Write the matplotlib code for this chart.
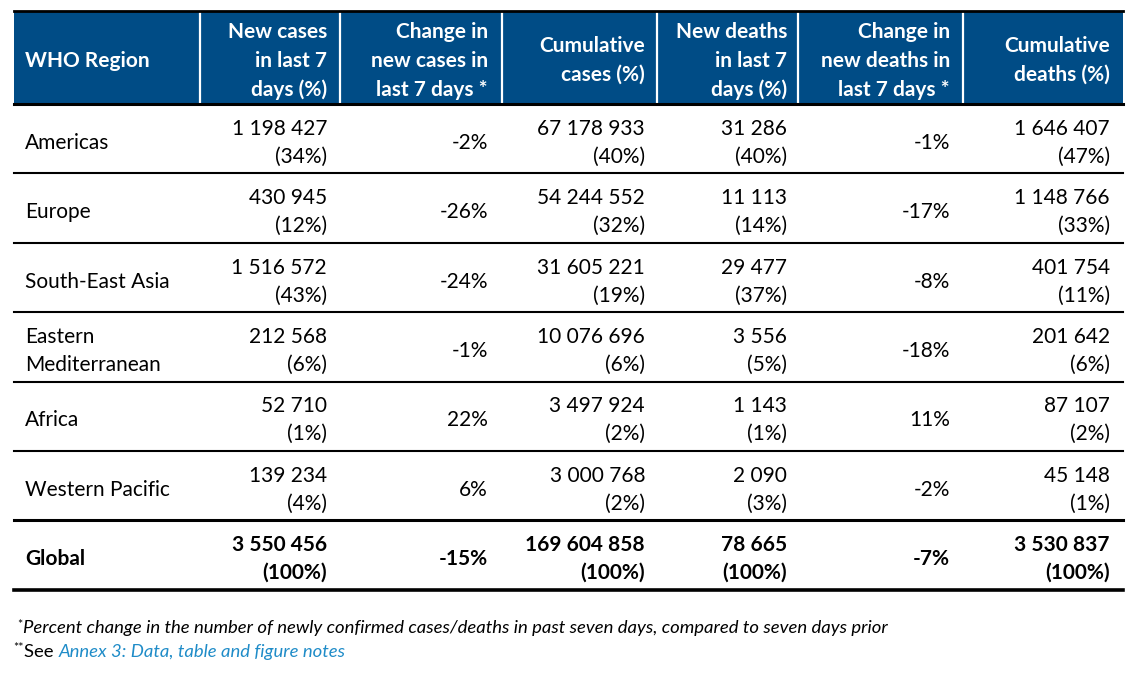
import matplotlib.pyplot as plt
from matplotlib.patches import Rectangle

plt.rcParams['font.family'] = ['Lato', 'DejaVu Sans']

headers = ['WHO Region', 'New cases\nin last 7\ndays (%)', 'Change in\nnew cases in\nlast 7 days *',
           'Cumulative\ncases (%)', 'New deaths\nin last 7\ndays (%)', 'Change in\nnew deaths in\nlast 7 days *',
           'Cumulative\ndeaths (%)']
regions = ['Americas', 'Europe', 'South-East Asia', 'Eastern\nMediterranean', 'Africa', 'Western Pacific']
new_cases = [1198427, 430945, 1516572, 212568, 52710, 139234]
new_cases_pct = [34, 12, 43, 6, 1, 4]
change_cases = [-2, -26, -24, -1, 22, 6]
cum_cases = [67178933, 54244552, 31605221, 10076696, 3497924, 3000768]
cum_cases_pct = [40, 32, 19, 6, 2, 2]
new_deaths = [31286, 11113, 29477, 3556, 1143, 2090]
new_deaths_pct = [40, 14, 37, 5, 1, 3]
change_deaths = [-1, -17, -8, -18, 11, -2]
cum_deaths = [1646407, 1148766, 401754, 201642, 87107, 45148]
cum_deaths_pct = [47, 33, 11, 6, 2, 1]
global_row = ['Global', 3550456, 100, -15, 169604858, 100, 78665, 100, -7, 3530837, 100]

BLUE = '#004C86'


def fmt(n):
    return f'{n:,}'.replace(',', ' ')


def two(n, p):
    return f'{fmt(n)}\n({p}%)'


rows = []
for i in range(len(regions)):
    rows.append([regions[i], two(new_cases[i], new_cases_pct[i]), f'{change_cases[i]}%',
                 two(cum_cases[i], cum_cases_pct[i]), two(new_deaths[i], new_deaths_pct[i]),
                 f'{change_deaths[i]}%', two(cum_deaths[i], cum_deaths_pct[i])])
g = global_row
rows.append([g[0], two(g[1], g[2]), f'{g[3]}%', two(g[4], g[5]), two(g[6], g[7]), f'{g[8]}%', two(g[9], g[10])])

fig = plt.figure(figsize=(11.42, 6.74), dpi=100)
ax = fig.add_axes([0, 0, 1, 1])
ax.set_xlim(0, 1142)
ax.set_ylim(674, 0)
ax.axis('off')

left, right = 14, 1123
col_edges = [14, 200, 340, 502, 657, 798, 963, 1123]
text_x = [25, 327, 488, 645, 787, 950, 1110]
header_top, header_bot = 12, 104
row_h = 69.4
FS = 15


def put(x, yc, s, ha, off, lh, **kw):
    lines = s.split('\n')
    n = len(lines)
    for k, ln in enumerate(lines):
        y = yc + off + (k - (n - 1) / 2) * lh
        ax.text(x, y, ln, ha=ha, va='baseline', **kw)


ax.add_patch(Rectangle((left, header_top), right - left, header_bot - header_top, color=BLUE, lw=0))
for x in col_edges[1:-1]:
    ax.plot([x, x], [header_top, header_bot], color='white', lw=1.6)

hc = (header_top + header_bot) / 2
for j, h in enumerate(headers):
    put(text_x[j], hc, h, 'left' if j == 0 else 'right', 8.7, 28.8,
        color='white', fontsize=FS, fontweight='bold')

for i, r in enumerate(rows):
    y0 = header_bot + i * row_h
    yc = y0 + row_h / 2
    bold = i == len(rows) - 1
    for j, s in enumerate(r):
        put(text_x[j], yc, s, 'left' if j == 0 else 'right', 10, 28,
            color='black', fontsize=FS, fontweight='bold' if bold else 'normal')
    if i > 0:
        ax.plot([left, right], [y0, y0], color='black', lw=2.2 if bold else 1.5)

ax.plot([left, right], [11, 11], color='black', lw=2.0)
ax.plot([left, right], [header_bot, header_bot], color='black', lw=2.2)
ax.plot([left, right], [header_bot + len(rows) * row_h, header_bot + len(rows) * row_h], color='black', lw=2.6)

# footnotes
fig.canvas.draw()
rend = fig.canvas.get_renderer()
inv = ax.transData.inverted()


def chain(x, y, s, **kw):
    t = ax.text(x, y, s, va='baseline', ha='left', **kw)
    bb = t.get_window_extent(rend)
    return inv.transform((bb.x1, bb.y0))[0]


x = chain(17, 629, '*', fontsize=9)
chain(x + 1, 633, 'Percent change in the number of newly confirmed cases/deaths in past seven days, compared to seven days prior',
      fontsize=13.3, style='italic')
x = chain(13, 652, '**', fontsize=9)
x = chain(x + 1, 657, 'See ', fontsize=13.3)
chain(x, 657, 'Annex 3: Data, table and figure notes', fontsize=13.3, style='italic', color='#1F8CC8')

fig.savefig('out.png', dpi=100)
